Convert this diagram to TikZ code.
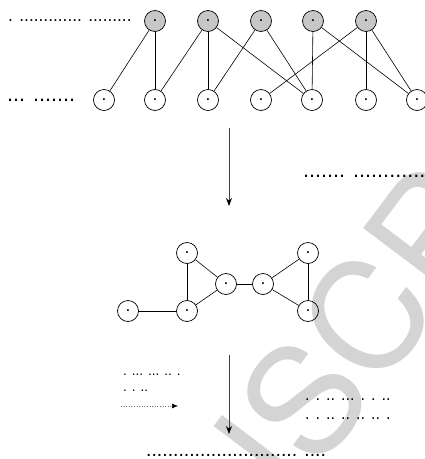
\documentclass[tikz,border=0pt]{standalone}
\usepackage{fontspec}
\newfontfamily\dotfont{Liberation Sans}
\newfontfamily\markfont{TeX Gyre Heros}
\usetikzlibrary{arrows.meta}
\tikzset{
  vtx/.style={circle, draw, line width=0.7pt, minimum size=21pt, inner sep=0pt,
    font=\dotfont\bfseries\fontsize{12}{12}\selectfont},
  hub/.style={vtx, fill=black!22},
  lbl/.style={inner sep=0pt, anchor=west,
    font=\dotfont\fontsize{#1}{#1}\selectfont},
  link/.style={line width=0.6pt},
  flow/.style={line width=0.8pt, draw=black!75,
    -{Stealth[length=8pt, width=6pt, black]}},
  hint/.style={line width=0.6pt, draw=black!55, dotted,
    -{Latex[length=6pt, width=5pt, black]}},
}
\begin{document}
\begin{tikzpicture}[x=1pt, y=-1pt]
  \clip (0,0) rectangle (425,459);
  \useasboundingbox (0,0) rectangle (425,459);

  % background stamp
  \node[rotate=53, text=black!17, inner sep=0pt,
        font=\markfont\fontsize{150}{150}\selectfont] (stamp) at (306,396) {MANUSCRIPT};

  % ---- bipartite graph ----
  \node[hub] (g1) at (155,21) {.};
  \node[hub] (g2) at (208,21) {.};
  \node[hub] (g3) at (261,21) {.};
  \node[hub] (g4) at (313,21) {.};
  \node[hub] (g5) at (366,21) {.};

  \node[vtx] (b1) at (104,100) {.};
  \node[vtx] (b2) at (155,100) {.};
  \node[vtx] (b3) at (208,100) {.};
  \node[vtx] (b4) at (261,100) {.};
  \node[vtx] (b5) at (312,100) {.};
  \node[vtx] (b6) at (366,100) {.};
  \node[vtx] (b7) at (417,100) {.};

  \draw[link] (g1) -- (b1);
  \draw[link] (g1) -- (b2);
  \draw[link] (g2) -- (b2);
  \draw[link] (g2) -- (b3);
  \draw[link] (g2) -- (b5);
  \draw[link] (g3) -- (b3);
  \draw[link] (g3) -- (b5);
  \draw[link] (g4) -- (b5);
  \draw[link] (g4) -- (b7);
  \draw[link] (g5) -- (b4);
  \draw[link] (g5) -- (b6);
  \draw[link] (g5) -- (b7);

  \node[lbl=17.3] (t1) at (8,21)  {. ............. .........};
  \node[lbl=21.6] (t2) at (7,100) {...  .......};

  % ---- first step ----
  \coordinate (a1s) at (229,128);
  \coordinate (a1e) at (229,206);
  \draw[flow] (a1s) -- (a1e);
  \node[lbl=21.6] (t3) at (303,176) {....... ...............};

  % ---- reduced graph ----
  \node[vtx] (m1) at (128,311) {.};
  \node[vtx] (m2) at (187,311) {.};
  \node[vtx] (m3) at (187,253) {.};
  \node[vtx] (m4) at (226,284) {.};
  \node[vtx] (m5) at (263,284) {.};
  \node[vtx] (m6) at (308,253) {.};
  \node[vtx] (m7) at (308,311) {.};

  \draw[link] (m1) -- (m2);
  \draw[link] (m2) -- (m3);
  \draw[link] (m3) -- (m4);
  \draw[link] (m2) -- (m4);
  \draw[link] (m4) -- (m5);
  \draw[link] (m5) -- (m6);
  \draw[link] (m5) -- (m7);
  \draw[link] (m6) -- (m7);

  % ---- second step ----
  \coordinate (a2s) at (229,355);
  \coordinate (a2e) at (229,434);
  \draw[flow] (a2s) -- (a2e);

  \node[lbl=13.5] (k1) at (123,375) {. ... ... .. .};
  \node[lbl=13.5] (k2) at (123,391) {. . ..};
  \coordinate (k3s) at (121,406);
  \coordinate (k3e) at (178,406);
  \draw[hint] (k3s) -- (k3e);

  \node[lbl=16.2] (r1) at (305,400) {. . .. ... . . ..};
  \node[lbl=16.2] (r2) at (305,419) {. . .. ..  .. .. .};

  \node[lbl=19.4] (t4) at (146,455) {............................ ....};
\end{tikzpicture}
\end{document}
